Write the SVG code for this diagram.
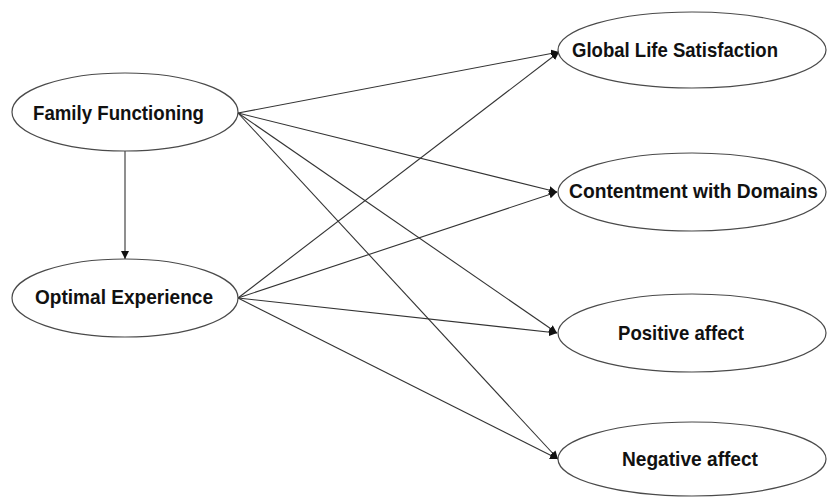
<svg xmlns="http://www.w3.org/2000/svg" width="827" height="498" viewBox="0 0 827 498">
<style>
.node ellipse{fill:#fff;stroke:#4a4a4a;stroke-width:1.2}
.node text{font-family:"Liberation Sans",Arial,sans-serif;font-weight:bold;font-size:20.5px;fill:#111}
.node text.fit{font-size:19.5px}
.edges line{stroke:#333;stroke-width:1.1;marker-end:url(#ah)}
</style>
<defs>
<marker id="ah" viewBox="0 0 10 10" refX="10" refY="5" markerWidth="8" markerHeight="8" markerUnits="userSpaceOnUse" orient="auto">
<path d="M0,0 L10,5 L0,10 z" fill="#111"/>
</marker>
</defs>
<rect width="827" height="498" fill="#fff"/>
<g class="edges">
<line x1="238" y1="113" x2="559" y2="52"/>
<line x1="238" y1="113" x2="557" y2="192"/>
<line x1="238" y1="113" x2="557" y2="333"/>
<line x1="238" y1="113" x2="558" y2="459"/>
<line x1="238" y1="298" x2="559" y2="52"/>
<line x1="238" y1="298" x2="557" y2="192"/>
<line x1="238" y1="298" x2="557" y2="333"/>
<line x1="238" y1="298" x2="558" y2="459"/>
<line x1="125" y1="151" x2="125" y2="259"/>
</g>
<g id="family-functioning" class="node">
<ellipse cx="125" cy="112" rx="113" ry="39"/>
<text x="33" y="120" textLength="171" lengthAdjust="spacingAndGlyphs">Family Functioning</text>
</g>
<g id="optimal-experience" class="node">
<ellipse cx="125" cy="298" rx="113" ry="39"/>
<text x="35" y="304" textLength="178" lengthAdjust="spacingAndGlyphs">Optimal Experience</text>
</g>
<g id="global-life-satisfaction" class="node">
<ellipse cx="692" cy="50" rx="134" ry="38"/>
<text x="572" y="57" textLength="206" lengthAdjust="spacingAndGlyphs">Global Life Satisfaction</text>
</g>
<g id="contentment-with-domains" class="node">
<ellipse cx="692" cy="192" rx="134" ry="39"/>
<text class="fit" x="569" y="198" textLength="249" lengthAdjust="spacingAndGlyphs">Contentment with Domains</text>
</g>
<g id="positive-affect" class="node">
<ellipse cx="692" cy="333" rx="134" ry="39"/>
<text x="618" y="340" textLength="126" lengthAdjust="spacingAndGlyphs">Positive affect</text>
</g>
<g id="negative-affect" class="node">
<ellipse cx="692" cy="459" rx="134" ry="37"/>
<text x="622" y="466" textLength="136" lengthAdjust="spacingAndGlyphs">Negative affect</text>
</g>
</svg>
